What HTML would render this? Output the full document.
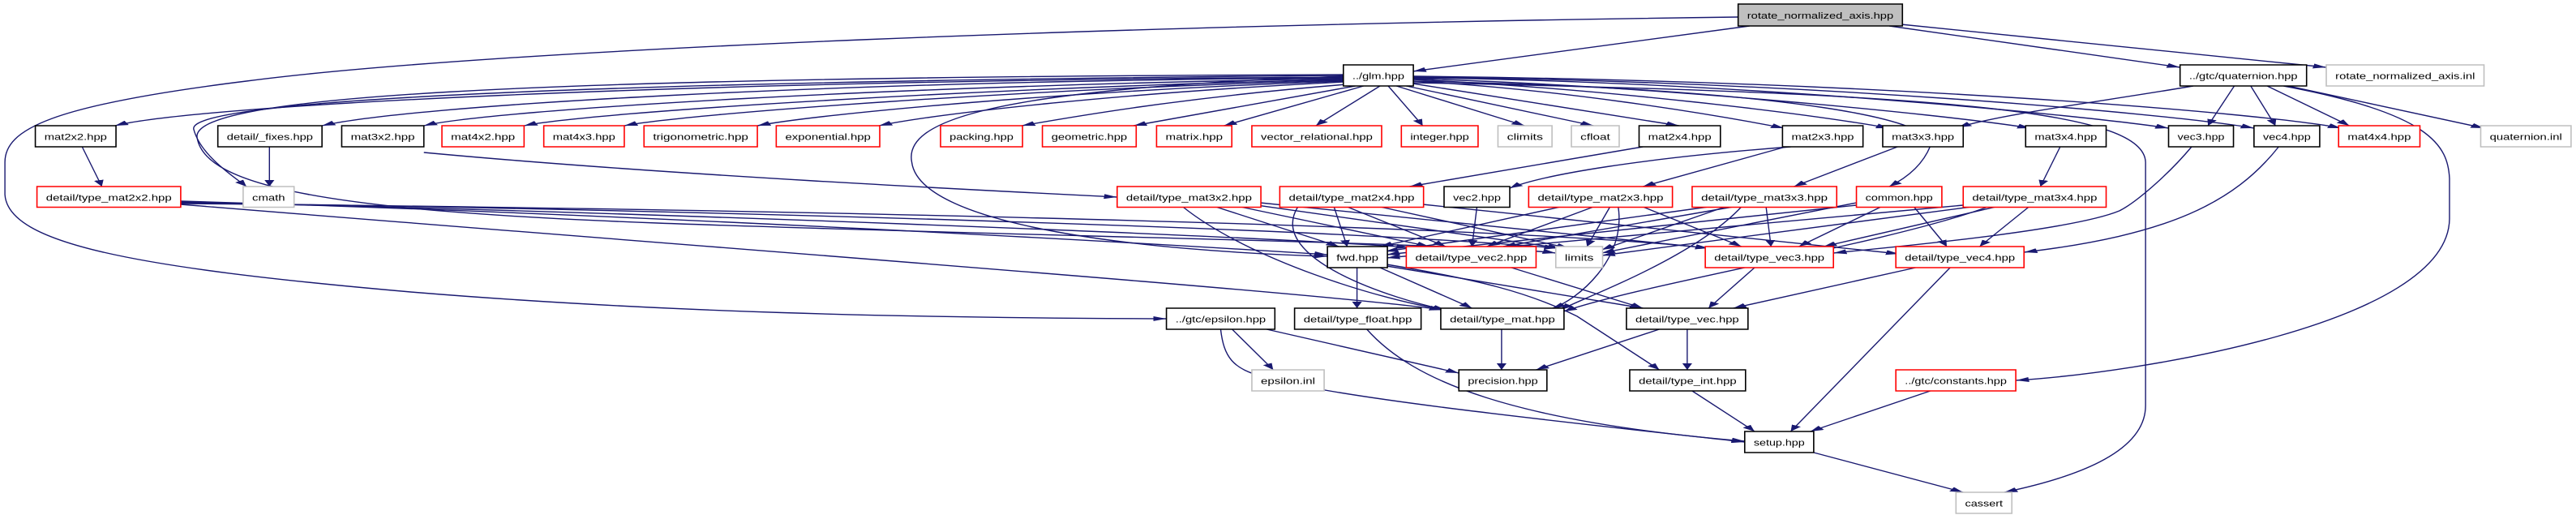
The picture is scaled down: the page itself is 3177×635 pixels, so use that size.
<!DOCTYPE html>
<html><head><meta charset="utf-8"><style>
html,body{margin:0;padding:0;background:#fff;}
svg{display:block;}
text{font-family:"Liberation Sans","DejaVu Sans",sans-serif;font-size:11px;fill:#000;}
.e{fill:none;stroke:#191970;stroke-width:1.4;vector-effect:non-scaling-stroke;marker-end:url(#a);}
.b{fill:#fff;stroke:#000;stroke-width:1.6;vector-effect:non-scaling-stroke;}
.r{fill:#fff;stroke:#ff0000;stroke-width:1.6;vector-effect:non-scaling-stroke;}
.g{fill:#fff;stroke:#bfbfbf;stroke-width:1.6;vector-effect:non-scaling-stroke;}
.root{fill:#bfbfbf;stroke:#000;stroke-width:1.6;vector-effect:non-scaling-stroke;}
</style></head><body>
<svg width="3177" height="635" viewBox="0 0 1568 635" preserveAspectRatio="none" xmlns="http://www.w3.org/2000/svg">
<defs><marker id="a" markerWidth="8" markerHeight="6" refX="8" refY="3" orient="auto" markerUnits="userSpaceOnUse"><path d="M0,0L8,3L0,6z" fill="#191970"/></marker></defs>
<g>
<path class="e" d="M1065,32 L860,88"/>
<path class="e" d="M1150,32 L1327,83"/>
<path class="e" d="M1157,30 L1416,83"/>
<path class="e" d="M1058,21 C700,30 300,60 150,100 C30,130 3,160 3,200 L3,240 C5,300 80,330 250,360 C400,385 550,392 710,393"/>
<path class="e" d="M818,95 C400,100 120,130 70,155"/>
<path class="e" d="M818,96 C500,100 250,130 196,155"/>
<path class="e" d="M818,97 C550,105 300,135 258,155"/>
<path class="e" d="M818,98 C600,108 360,138 319,155"/>
<path class="e" d="M818,99 C620,110 420,140 380,155"/>
<path class="e" d="M818,100 C650,112 500,140 461,155"/>
<path class="e" d="M818,101 C680,115 570,140 535,155"/>
<path class="e" d="M820,104 C720,120 650,145 622,155"/>
<path class="e" d="M825,106 L690,155"/>
<path class="e" d="M830,106 L745,155"/>
<path class="e" d="M840,106 L801,155"/>
<path class="e" d="M845,106 L866,155"/>
<path class="e" d="M850,106 L928,155"/>
<path class="e" d="M856,106 L970,155"/>
<path class="e" d="M860,103 L1022,155"/>
<path class="e" d="M860,100 C950,110 1040,140 1086,158"/>
<path class="e" d="M860,98 C980,110 1100,140 1150,158"/>
<path class="e" d="M860,97 C1000,105 1180,140 1236,158"/>
<path class="e" d="M860,96 C1050,100 1260,140 1320,158"/>
<path class="e" d="M860,95 C1100,100 1320,140 1372,158"/>
<path class="e" d="M860,94 C1150,100 1380,140 1425,158"/>
<path class="e" d="M818,93 C400,100 110,120 118,160 C122,190 140,215 150,230"/>
<path class="e" d="M818,94 C600,110 550,150 555,200 C560,280 700,310 808,316"/>
<path class="e" d="M818,92 C300,95 115,120 120,170 C125,230 200,260 400,275 C600,290 900,300 947,312"/>
<path class="e" d="M860,100 C1100,110 1180,150 1175,180 C1170,205 1160,220 1150,230"/>
<path class="e" d="M860,102 C1200,115 1305,140 1306,200 L1306,500 C1306,560 1260,590 1220,607"/>
<path class="e" d="M1335,106 C1280,125 1220,140 1192,157"/>
<path class="e" d="M1360,106 L1344,155"/>
<path class="e" d="M1370,106 L1385,155"/>
<path class="e" d="M1380,106 L1430,155"/>
<path class="e" d="M1393,106 L1512,158"/>
<path class="e" d="M1390,106 C1480,140 1490,180 1491,220 L1491,270 C1490,400 1300,460 1227,469"/>
<path class="e" d="M50,181 L62,230"/>
<path class="e" d="M164,181 L164,230"/>
<path class="e" d="M258,188 C400,215 600,235 680,243"/>
<path class="e" d="M1000,181 L858,230"/>
<path class="e" d="M1090,181 C1000,195 940,215 919,232"/>
<path class="e" d="M1087,181 L1000,230"/>
<path class="e" d="M1155,181 L1092,230"/>
<path class="e" d="M1254,181 L1242,230"/>
<path class="e" d="M1334,181 C1320,215 1300,250 1290,260 C1260,285 1150,305 1116,312"/>
<path class="e" d="M1387,181 C1360,250 1320,290 1232,311"/>
<path class="e" d="M110,248 C400,265 700,300 808,314"/>
<path class="e" d="M110,249 C400,262 750,290 858,305"/>
<path class="e" d="M110,250 C400,258 800,280 948,306"/>
<path class="e" d="M110,251 C400,256 900,275 1040,306"/>
<path class="e" d="M110,252 C400,300 800,360 878,382"/>
<path class="e" d="M740,255 L815,304"/>
<path class="e" d="M755,255 L870,304"/>
<path class="e" d="M765,253 L950,306"/>
<path class="e" d="M767,250 L1040,306"/>
<path class="e" d="M720,255 C760,320 840,370 880,382"/>
<path class="e" d="M812,255 L820,304"/>
<path class="e" d="M820,255 L880,304"/>
<path class="e" d="M840,255 L955,306"/>
<path class="e" d="M866,252 L1156,313"/>
<path class="e" d="M790,255 C770,320 850,370 880,382"/>
<path class="e" d="M899,255 L896,304"/>
<path class="e" d="M950,255 L840,304"/>
<path class="e" d="M970,255 L905,304"/>
<path class="e" d="M980,255 L966,304"/>
<path class="e" d="M1000,255 L1060,304"/>
<path class="e" d="M985,255 C990,320 960,370 945,380"/>
<path class="e" d="M1040,255 L843,310"/>
<path class="e" d="M1055,255 L915,304"/>
<path class="e" d="M1050,255 L975,308"/>
<path class="e" d="M1075,255 L1078,304"/>
<path class="e" d="M1060,255 C1030,320 960,370 950,382"/>
<path class="e" d="M1130,253 L844,314"/>
<path class="e" d="M1145,255 L1095,304"/>
<path class="e" d="M1165,255 L1185,304"/>
<path class="e" d="M1130,250 L975,312"/>
<path class="e" d="M1195,253 L844,318"/>
<path class="e" d="M1200,255 L975,315"/>
<path class="e" d="M1215,255 L1110,304"/>
<path class="e" d="M1235,255 L1205,304"/>
<path class="e" d="M1210,255 C1150,300 1000,350 952,384"/>
<path class="e" d="M826,330 L826,380"/>
<path class="e" d="M840,330 L896,380"/>
<path class="e" d="M844,328 L1000,380"/>
<path class="e" d="M844,326 C900,345 930,360 960,390 L1010,456"/>
<path class="e" d="M920,330 L1000,380"/>
<path class="e" d="M1068,330 L1040,380"/>
<path class="e" d="M1166,330 L1055,380"/>
<path class="e" d="M1187,330 L1090,532"/>
<path class="e" d="M750,406 L775,456"/>
<path class="e" d="M771,406 L888,460"/>
<path class="e" d="M743,406 C745,440 750,455 770,465 C810,490 950,520 1062,545"/>
<path class="e" d="M832,406 C860,470 920,520 1062,544"/>
<path class="e" d="M914,406 L914,456"/>
<path class="e" d="M1010,406 L935,456"/>
<path class="e" d="M1027,406 L1027,456"/>
<path class="e" d="M1030,482 L1068,532"/>
<path class="e" d="M1175,482 L1102,532"/>
<path class="e" d="M1104,558 L1195,607"/>
</g>
<g>
<rect class="root" x="1058" y="5" width="100" height="27"/><text x="1063.5" y="23" textLength="89" lengthAdjust="spacingAndGlyphs">rotate_normalized_axis.hpp</text>
<rect class="b" x="817.7" y="80" width="42.6" height="26"/><text x="823.2" y="97.5" textLength="31.6" lengthAdjust="spacingAndGlyphs">../glm.hpp</text>
<rect class="b" x="1327" y="80" width="77" height="26"/><text x="1332.5" y="97.5" textLength="66" lengthAdjust="spacingAndGlyphs">../gtc/quaternion.hpp</text>
<rect class="g" x="1416" y="80" width="96" height="26"/><text x="1421.5" y="97.5" textLength="85" lengthAdjust="spacingAndGlyphs">rotate_normalized_axis.inl</text>

<rect class="b" x="21.5" y="155" width="49.1" height="26"/><text x="27" y="172.5" textLength="38.1" lengthAdjust="spacingAndGlyphs">mat2x2.hpp</text>
<rect class="b" x="132.6" y="155" width="63.4" height="26"/><text x="138.1" y="172.5" textLength="52.4" lengthAdjust="spacingAndGlyphs">detail/_fixes.hpp</text>
<rect class="b" x="208" y="155" width="50" height="26"/><text x="213.5" y="172.5" textLength="39" lengthAdjust="spacingAndGlyphs">mat3x2.hpp</text>
<rect class="r" x="269" y="155" width="50" height="26"/><text x="274.5" y="172.5" textLength="39" lengthAdjust="spacingAndGlyphs">mat4x2.hpp</text>
<rect class="r" x="331" y="155" width="49" height="26"/><text x="336.5" y="172.5" textLength="38" lengthAdjust="spacingAndGlyphs">mat4x3.hpp</text>
<rect class="r" x="392" y="155" width="69" height="26"/><text x="397.5" y="172.5" textLength="58" lengthAdjust="spacingAndGlyphs">trigonometric.hpp</text>
<rect class="r" x="472.5" y="155" width="63" height="26"/><text x="478" y="172.5" textLength="52" lengthAdjust="spacingAndGlyphs">exponential.hpp</text>
<rect class="r" x="572.5" y="155" width="49.9" height="26"/><text x="578" y="172.5" textLength="38.9" lengthAdjust="spacingAndGlyphs">packing.hpp</text>
<rect class="r" x="634.5" y="155" width="57.1" height="26"/><text x="640" y="172.5" textLength="46.1" lengthAdjust="spacingAndGlyphs">geometric.hpp</text>
<rect class="r" x="704" y="155" width="45.8" height="26"/><text x="709.5" y="172.5" textLength="34.8" lengthAdjust="spacingAndGlyphs">matrix.hpp</text>
<rect class="r" x="762" y="155" width="79" height="26"/><text x="767.5" y="172.5" textLength="68" lengthAdjust="spacingAndGlyphs">vector_relational.hpp</text>
<rect class="r" x="853" y="155" width="46.7" height="26"/><text x="858.5" y="172.5" textLength="35.7" lengthAdjust="spacingAndGlyphs">integer.hpp</text>
<rect class="g" x="911.8" y="155" width="32.9" height="26"/><text x="917.3" y="172.5" textLength="21.9" lengthAdjust="spacingAndGlyphs">climits</text>
<rect class="g" x="956.5" y="155" width="29.1" height="26"/><text x="962" y="172.5" textLength="18.1" lengthAdjust="spacingAndGlyphs">cfloat</text>
<rect class="b" x="997.7" y="155" width="49.5" height="26"/><text x="1003.2" y="172.5" textLength="38.5" lengthAdjust="spacingAndGlyphs">mat2x4.hpp</text>
<rect class="b" x="1085" y="155" width="49" height="26"/><text x="1090.5" y="172.5" textLength="38" lengthAdjust="spacingAndGlyphs">mat2x3.hpp</text>
<rect class="b" x="1146" y="155" width="49" height="26"/><text x="1151.5" y="172.5" textLength="38" lengthAdjust="spacingAndGlyphs">mat3x3.hpp</text>
<rect class="b" x="1233" y="155" width="49" height="26"/><text x="1238.5" y="172.5" textLength="38" lengthAdjust="spacingAndGlyphs">mat3x4.hpp</text>
<rect class="b" x="1320" y="155" width="39.5" height="26"/><text x="1325.5" y="172.5" textLength="28.5" lengthAdjust="spacingAndGlyphs">vec3.hpp</text>
<rect class="b" x="1372" y="155" width="40" height="26"/><text x="1377.5" y="172.5" textLength="29" lengthAdjust="spacingAndGlyphs">vec4.hpp</text>
<rect class="r" x="1423.5" y="155" width="49.5" height="26"/><text x="1429" y="172.5" textLength="38.5" lengthAdjust="spacingAndGlyphs">mat4x4.hpp</text>
<rect class="g" x="1510" y="155" width="55" height="26"/><text x="1515.5" y="172.5" textLength="44" lengthAdjust="spacingAndGlyphs">quaternion.inl</text>

<rect class="r" x="22.5" y="230" width="87.5" height="25.5"/><text x="28" y="247.5" textLength="76.5" lengthAdjust="spacingAndGlyphs">detail/type_mat2x2.hpp</text>
<rect class="g" x="148" y="230" width="31" height="25.5"/><text x="153.5" y="247.5" textLength="20" lengthAdjust="spacingAndGlyphs">cmath</text>
<rect class="r" x="680" y="230" width="87.5" height="25.5"/><text x="685.5" y="247.5" textLength="76.5" lengthAdjust="spacingAndGlyphs">detail/type_mat3x2.hpp</text>
<rect class="r" x="779" y="230" width="87.5" height="25.5"/><text x="784.5" y="247.5" textLength="76.5" lengthAdjust="spacingAndGlyphs">detail/type_mat2x4.hpp</text>
<rect class="b" x="879" y="230" width="40" height="25.5"/><text x="884.5" y="247.5" textLength="29" lengthAdjust="spacingAndGlyphs">vec2.hpp</text>
<rect class="r" x="930.5" y="230" width="87.5" height="25.5"/><text x="936" y="247.5" textLength="76.5" lengthAdjust="spacingAndGlyphs">detail/type_mat2x3.hpp</text>
<rect class="r" x="1030" y="230" width="88" height="25.5"/><text x="1035.5" y="247.5" textLength="77" lengthAdjust="spacingAndGlyphs">detail/type_mat3x3.hpp</text>
<rect class="r" x="1130" y="230" width="52" height="25.5"/><text x="1135.5" y="247.5" textLength="41" lengthAdjust="spacingAndGlyphs">common.hpp</text>
<rect class="r" x="1195" y="230" width="87" height="25.5"/><text x="1200.5" y="247.5" textLength="76" lengthAdjust="spacingAndGlyphs">detail/type_mat3x4.hpp</text>

<rect class="b" x="808" y="304" width="36.5" height="26"/><text x="813.5" y="321.5" textLength="25.5" lengthAdjust="spacingAndGlyphs">fwd.hpp</text>
<rect class="r" x="856" y="304" width="79" height="26"/><text x="861.5" y="321.5" textLength="68" lengthAdjust="spacingAndGlyphs">detail/type_vec2.hpp</text>
<rect class="g" x="947" y="304" width="28.5" height="26"/><text x="952.5" y="321.5" textLength="17.5" lengthAdjust="spacingAndGlyphs">limits</text>
<rect class="r" x="1038" y="304" width="78" height="26"/><text x="1043.5" y="321.5" textLength="67" lengthAdjust="spacingAndGlyphs">detail/type_vec3.hpp</text>
<rect class="r" x="1154" y="304" width="78" height="26"/><text x="1159.5" y="321.5" textLength="67" lengthAdjust="spacingAndGlyphs">detail/type_vec4.hpp</text>

<rect class="b" x="710" y="380" width="66" height="26"/><text x="715.5" y="397.5" textLength="55" lengthAdjust="spacingAndGlyphs">../gtc/epsilon.hpp</text>
<rect class="b" x="788" y="380" width="77" height="26"/><text x="793.5" y="397.5" textLength="66" lengthAdjust="spacingAndGlyphs">detail/type_float.hpp</text>
<rect class="b" x="877" y="380" width="75" height="26"/><text x="882.5" y="397.5" textLength="64" lengthAdjust="spacingAndGlyphs">detail/type_mat.hpp</text>
<rect class="b" x="990" y="380" width="74" height="26"/><text x="995.5" y="397.5" textLength="63" lengthAdjust="spacingAndGlyphs">detail/type_vec.hpp</text>

<rect class="g" x="762" y="456" width="44" height="26"/><text x="767.5" y="473.5" textLength="33" lengthAdjust="spacingAndGlyphs">epsilon.inl</text>
<rect class="b" x="888" y="456" width="53.6" height="26"/><text x="893.5" y="473.5" textLength="42.6" lengthAdjust="spacingAndGlyphs">precision.hpp</text>
<rect class="b" x="992" y="456" width="70.5" height="26"/><text x="997.5" y="473.5" textLength="59.5" lengthAdjust="spacingAndGlyphs">detail/type_int.hpp</text>
<rect class="r" x="1154" y="456" width="73" height="26"/><text x="1159.5" y="473.5" textLength="62" lengthAdjust="spacingAndGlyphs">../gtc/constants.hpp</text>

<rect class="b" x="1062" y="532" width="42" height="26"/><text x="1067.5" y="549.5" textLength="31" lengthAdjust="spacingAndGlyphs">setup.hpp</text>
<rect class="g" x="1190.6" y="607" width="34" height="26"/><text x="1196.1" y="624.5" textLength="23" lengthAdjust="spacingAndGlyphs">cassert</text>
</g>
</svg>
</body></html>
